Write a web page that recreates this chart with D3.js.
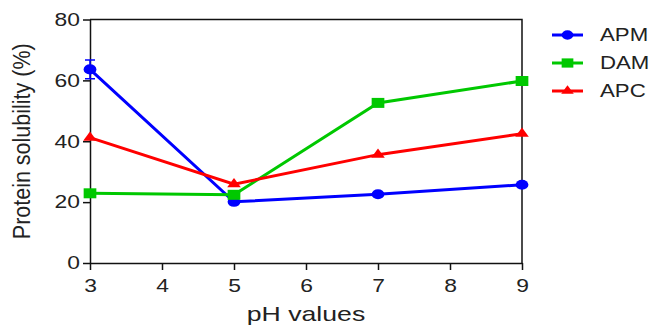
<!DOCTYPE html>
<html>
<head>
<meta charset="utf-8">
<script src="https://cdn.jsdelivr.net/npm/d3@7"></script>
<style>
  body { margin: 0; background: #fff; }
  svg text { font-family: "Liberation Sans", Arial, sans-serif; fill: #222; }
</style>
</head>
<body>
<div id="chart"></div>
<script>
const phValues = [3, 5, 7, 9];
const apm = [63.6, 20.1, 22.6, 25.7];
const apmErr = [3.1, 0.8, 0.6, 0.6];
const dam = [22.9, 22.4, 52.6, 59.8];
const apc = [41.2, 25.9, 35.6, 42.5];
const xTicks = [3, 4, 5, 6, 7, 8, 9];
const yTicks = [0, 20, 40, 60, 80];

// the picture is a bit wider than tall, so text and marks get stretched in x
const sx = 1.27;

const series = [
  { name: "APM", values: apm, err: apmErr, color: "#0000ff", symbol: d3.symbolCircle, size: 80 },
  { name: "DAM", values: dam, err: null, color: "#00c800", symbol: d3.symbolSquare, size: 100 },
  { name: "APC", values: apc, err: null, color: "#ff0000", symbol: d3.symbolTriangle, size: 50 },
];

const width = 653, height = 331;
const margin = { top: 19.5, right: 131, bottom: 68, left: 90 };

const svg = d3.select("#chart").append("svg")
  .attr("width", width)
  .attr("height", height);

const x = d3.scaleLinear().domain([3, 9]).range([margin.left, width - margin.right]);
const y = d3.scaleLinear().domain([0, 80]).range([height - margin.bottom, margin.top]);

// frame (top and right)
svg.append("path")
  .attr("d", `M${x(3)},${y(80)}H${x(9)}V${y(0)}`)
  .attr("fill", "none")
  .attr("stroke", "#111")
  .attr("stroke-width", 1.5);

const xAxis = svg.append("g")
  .attr("transform", `translate(0,${y(0)})`)
  .call(d3.axisBottom(x).tickValues(xTicks).tickFormat(d3.format("d")).tickSize(7).tickSizeOuter(0));
const yAxis = svg.append("g")
  .attr("transform", `translate(${x(3)},0)`)
  .call(d3.axisLeft(y).tickValues(yTicks).tickFormat(d3.format("d")).tickSize(7).tickSizeOuter(0));

[xAxis, yAxis].forEach((g) => {
  g.select(".domain").attr("stroke", "#111").attr("stroke-width", 1.5);
  g.selectAll(".tick line").attr("stroke", "#111").attr("stroke-width", 1.5);
  g.selectAll(".tick text")
    .style("font-size", "18px")
    .style("font-family", "Liberation Sans, Arial, sans-serif")
    .attr("fill", "#222");
});

xAxis.selectAll(".tick text")
  .attr("y", 0).attr("dy", null)
  .attr("transform", `translate(0,28.5) scale(${sx},1)`);
yAxis.selectAll(".tick text")
  .attr("x", 0)
  .attr("transform", `translate(-10,0) scale(${sx},1)`);

const line = d3.line()
  .x((d, i) => x(phValues[i]))
  .y((d) => y(d));

series.forEach((s) => {
  svg.append("path")
    .datum(s.values)
    .attr("d", line)
    .attr("fill", "none")
    .attr("stroke", s.color)
    .attr("stroke-width", 3);

  if (s.err) {
    const eb = svg.append("g");
    s.values.forEach((v, i) => {
      const cx = x(phValues[i]);
      eb.append("path")
        .attr("d", `M${cx},${y(v + s.err[i])}V${y(v - s.err[i])}M${cx - 5},${y(v + s.err[i])}H${cx + 5}M${cx - 5},${y(v - s.err[i])}H${cx + 5}`)
        .attr("stroke", s.color)
        .attr("stroke-width", 1.5)
        .attr("fill", "none");
    });
  }

  svg.append("g").selectAll("path")
    .data(s.values)
    .enter()
    .append("path")
    .attr("transform", (d, i) => `translate(${x(phValues[i])},${y(d)}) scale(${sx},1)`)
    .attr("d", d3.symbol().type(s.symbol).size(s.size))
    .attr("fill", s.color);
});

// legend
const legend = svg.append("g");
series.forEach((s, i) => {
  const ly = 35 + i * 28;
  legend.append("line")
    .attr("x1", 552).attr("x2", 583)
    .attr("y1", ly).attr("y2", ly)
    .attr("stroke", s.color)
    .attr("stroke-width", 3);
  legend.append("path")
    .attr("transform", `translate(567.5,${ly}) scale(${sx},1)`)
    .attr("d", d3.symbol().type(s.symbol).size(s.size * 0.85))
    .attr("fill", s.color);
  legend.append("text")
    .attr("transform", `translate(600,${ly}) scale(${sx},1)`)
    .attr("dy", "0.35em")
    .style("font-size", "17.5px")
    .text(s.name);
});

// axis titles
svg.append("text")
  .attr("transform", `translate(${(x(3) + x(9)) / 2},320.5) scale(1.3,1)`)
  .attr("text-anchor", "middle")
  .style("font-size", "20.5px")
  .text("pH values");

svg.append("text")
  .attr("transform", `translate(30,${(y(0) + y(80)) / 2}) scale(1.15,1) rotate(-90)`)
  .attr("text-anchor", "middle")
  .style("font-size", "21.5px")
  .text("Protein solubility (%)");
</script>
</body>
</html>
